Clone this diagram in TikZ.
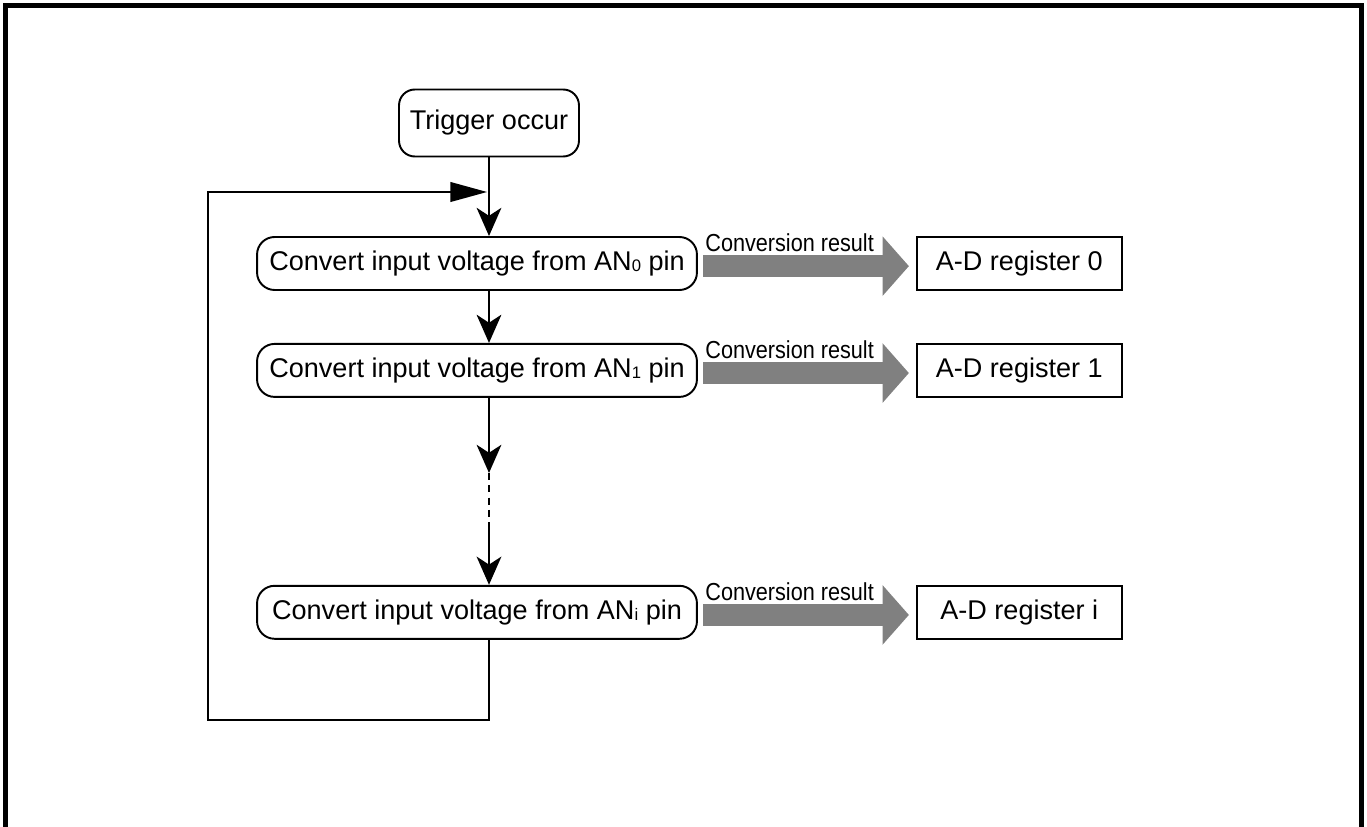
\documentclass[tikz,border=0pt]{standalone}
\usepackage{fontspec}
\setmainfont{Liberation Sans}
\usetikzlibrary{arrows.meta, positioning}

\newcommand{\pinsub}[1]{\raisebox{-0.6pt}{\fontsize{9.5}{10}\selectfont #1}}

\begin{document}
\begin{tikzpicture}[x=0.02cm, y=-0.02cm,
    flowline/.style={line width=1.7pt},
    flowarrow/.style={flowline, -{Stealth[length=16pt, width=14pt, inset=4.5pt]}},
    startnode/.style={draw, line width=1.1pt, rounded corners=9pt, minimum width=3.6cm, minimum height=1.34cm, inner sep=0pt, font=\fontsize{15.4}{18}\selectfont},
    stepnode/.style={draw, line width=1.1pt, rounded corners=10pt, minimum width=8.8cm, minimum height=1.06cm, inner sep=0pt, font=\fontsize{15.4}{18}\selectfont},
    regbox/.style={draw, line width=1.1pt, minimum width=4.1cm, minimum height=1.06cm, inner sep=0pt, font=\fontsize{15.4}{18}\selectfont},
    result/.style={gray, line width=12.5pt, -{Triangle[length=15pt, width=34pt, line width=0pt]}, shorten <=3pt, shorten >=4pt},
    lbl/.style={text=black, inner sep=0pt, font=\fontsize{14}{16}\selectfont}]
    \useasboundingbox (0,0) rectangle (1367,827);

    % outer frame, open at the bottom
    \draw[line width=2.8pt] (5.5,827) -- (5.5,5.5) -- (1361.5,5.5) -- (1361.5,827);

    \node[startnode] (trig) at (489,123) {Trigger occur};
    \node[stepnode] (conv0) at (477,263.5) {Convert input voltage from AN\pinsub{0} pin};
    \node[stepnode, below=1.04cm of conv0] (conv1) {Convert input voltage from AN\pinsub{1} pin};
    \node[stepnode, below=3.74cm of conv1] (convi) {Convert input voltage from AN\pinsub{i} pin};

    \node[regbox, right=4.36cm of conv0] (reg0) {A-D register 0};
    \node[regbox, right=4.36cm of conv1] (reg1) {A-D register 1};
    \node[regbox, right=4.36cm of convi] (regi) {A-D register i};

    \coordinate (gapA) at (489,473);
    \coordinate (gapB) at (489,528);
    \coordinate (merge) at (489,192);
    \coordinate (loopL) at (208,720);

    \draw[flowarrow] (trig.south) -- (conv0.north -| trig.south);
    \draw[flowarrow] (conv0.south -| trig.south) -- (conv1.north -| trig.south);
    \draw[flowarrow] (conv1.south -| trig.south) -- (gapA);
    \draw[line width=1.6pt, dash pattern=on 4pt off 3pt] (gapA) -- (gapB);
    \draw[flowarrow] (gapB) -- (convi.north -| trig.south);

    % back to the first channel
    \draw[flowline, -{Triangle[length=21pt, width=11pt]}, shorten >=1pt]
        (convi.south -| trig.south) |- (loopL) |- (merge);

    \draw[result] ([yshift=-1.5pt]conv0.east) -- ([yshift=-1.5pt]reg0.west)
        node[lbl, pos=0, anchor=base west, xshift=-2pt, yshift=8.3pt] {\scalebox{0.88}[1]{Conversion result}};
    \draw[result] ([yshift=-1.5pt]conv1.east) -- ([yshift=-1.5pt]reg1.west)
        node[lbl, pos=0, anchor=base west, xshift=-2pt, yshift=8.3pt] {\scalebox{0.88}[1]{Conversion result}};
    \draw[result] ([yshift=-1.5pt]convi.east) -- ([yshift=-1.5pt]regi.west)
        node[lbl, pos=0, anchor=base west, xshift=-2pt, yshift=8.3pt] {\scalebox{0.88}[1]{Conversion result}};
\end{tikzpicture}
\end{document}
